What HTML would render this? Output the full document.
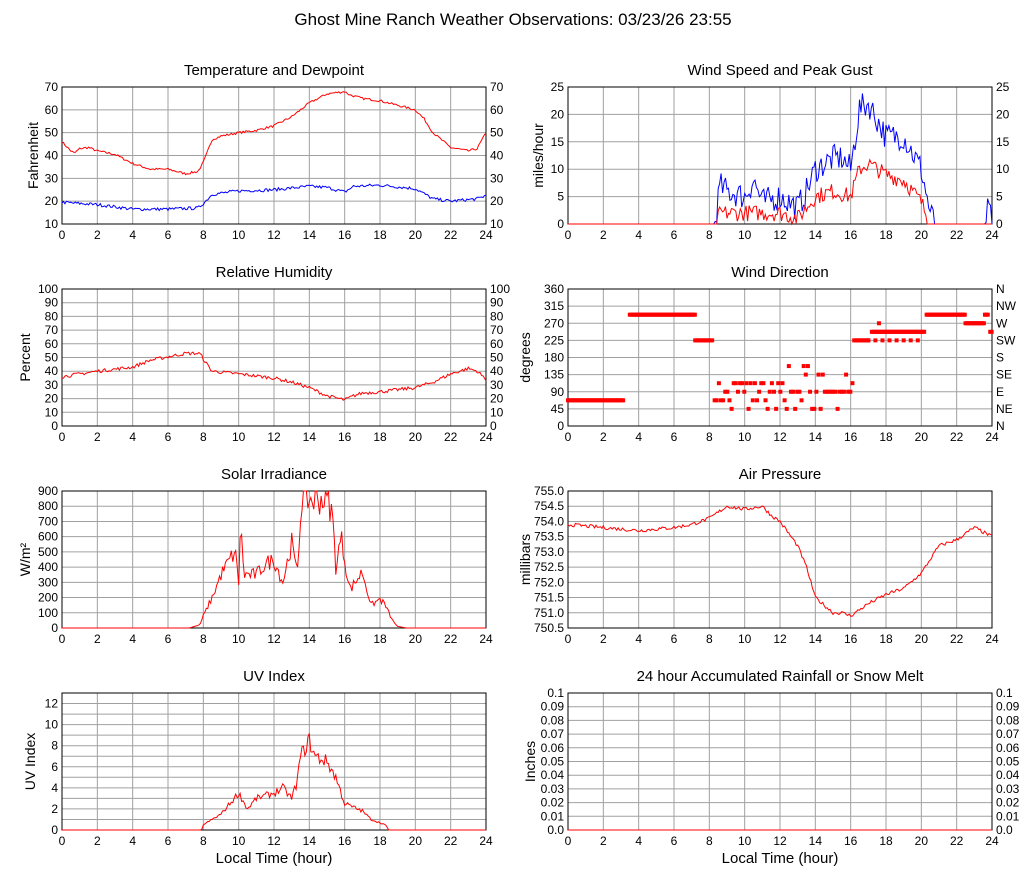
<!DOCTYPE html>
<html><head><meta charset="utf-8"><style>
body{margin:0;background:#fff;}
svg{font-family:"Liberation Sans",Arial,sans-serif;display:block}
</style></head><body>
<svg id="s" width="1027" height="878" xmlns="http://www.w3.org/2000/svg">
<rect width="1027" height="878" fill="#fff"/>
<text x="513" y="25" font-size="17" text-anchor="middle">Ghost Mine Ranch Weather Observations: 03/23/26 23:55</text>
</svg>
<script>
const S=document.getElementById('s');const NS='http://www.w3.org/2000/svg';
function el(t,a,txt){const e=document.createElementNS(NS,t);for(const k in a)e.setAttribute(k,a[k]);if(txt!==undefined)e.textContent=txt;S.appendChild(e);return e;}
let seed=7;function rnd(){seed=(seed*16807)%2147483647;return seed/2147483647;}
function interp(k,t){if(t<=k[0][0])return k[0][1];for(let i=1;i<k.length;i++){if(t<=k[i][0]){const a=k[i-1],b=k[i];return a[1]+(b[1]-a[1])*(t-a[0])/(b[0]-a[0]);}}return k[k.length-1][1];}
function chart(o){
 const x0=o.x,y0=o.y,w=424,h=137;
 el('text',{x:x0+w/2,y:y0-12,'font-size':15,'text-anchor':'middle'},o.title);
 const n=Math.round((o.ymax-o.ymin)/o.step);
 for(let i=0;i<=12;i++){const x=x0+w*i/12;el('line',{x1:x,y1:y0,x2:x,y2:y0+h,stroke:'#a0a0a0'});
  el('text',{x:x,y:y0+h+15,'font-size':12,'text-anchor':'middle'},i*2);}
 for(let j=0;j<=n;j++){const y=y0+h-h*j/n;el('line',{x1:x0,y1:y,x2:x0+w,y2:y,stroke:'#a0a0a0'});
  const v=o.ymin+j*o.step;const lab=o.fmt?o.fmt(v):String(Math.round(v*1000)/1000);
  el('text',{x:x0-4,y:y+4,'font-size':12,'text-anchor':'end'},lab);
  if(o.right){el('text',{x:x0+w+4,y:y+4,'font-size':12},o.rlab?o.rlab[j]:lab);}}
 el('rect',{x:x0,y:y0,width:w,height:h,fill:'none',stroke:'#000'});
 const yl=el('text',{x:0,y:0,'font-size':14,'text-anchor':'middle',transform:`translate(${o.ylx},${y0+h/2}) rotate(-90)`},o.ylabel);
 if(o.xlabel)el('text',{x:x0+w/2,y:y0+h+33,'font-size':15,'text-anchor':'middle'},'Local Time (hour)');
 const X=t=>x0+w*t/24,Y=v=>y0+h-h*(v-o.ymin)/(o.ymax-o.ymin);
 (o.series||[]).forEach(s=>{let p=[];for(let i=0;i<=288;i++){const t=i/12;let v=interp(s.k,t);if(v>0||!s.pos)v+=(rnd()-.5)*s.noise*(s.rel?v:1);if(s.pos)v=Math.max(0,v);v=Math.min(o.ymax,v);p.push(X(t).toFixed(1)+','+Y(v).toFixed(1));}
  el('polyline',{points:p.join(' '),fill:'none',stroke:s.c,'stroke-width':1});});
 if(o.dots)o.dots.forEach(d=>el('rect',{x:X(d[0])-2,y:Y(d[1])-2,width:4,height:4,fill:'#f00'}));
}
chart({x:62,y:87,title:'Temperature and Dewpoint',ymin:10,ymax:70,step:10,right:1,ylabel:'Fahrenheit',ylx:38,
 series:[{c:'#f00',noise:1,k:[[0,46],[0.5,42],[0.7,41],[1,43],[1.5,43.5],[2,42],[3,40.5],[4,36.5],[5,34],[6,34],[7,32],[7.7,33],[8,37],[8.5,47],[9,48.5],[10,50],[11,51],[12,53],[13,57],[14,63],[15,67],[16,68],[16.3,66.5],[17,65],[18,64],[19,62],[20,60],[20.5,56],[21,50],[22,43.5],[23,42],[23.5,43],[24,50]]},
 {c:'#00f',noise:1.4,k:[[0,19.5],[2,18.5],[4,16.5],[6,16.5],[7.7,17],[8,19],[8.5,23],[10,24.5],[12,25],[14,26.5],[15,26],[16,24],[16.5,26.5],[18,27],[20,25.5],[21,21],[22,20],[23.5,21],[24,22.5]]}]});
chart({x:568,y:87,title:'Wind Speed and Peak Gust',ymin:0,ymax:25,step:5,right:1,ylabel:'miles/hour',ylx:543,
 series:[{c:'#00f',noise:5,pos:1,k:[[0,0],[8.3,0],[8.6,7],[9,6],[10,5],[10.5,8],[11,4],[12,5],[13,3],[13.5,6],[14,10],[15,12],[15.5,12],[16,10],[16.5,21],[17,22],[17.5,19],[18,16],[19,16],[20,10],[20.5,2],[20.8,0],[23.6,0],[23.8,3],[24,0]]},
 {c:'#f00',noise:3,pos:1,k:[[0,0],[8.4,0],[8.6,2],[10,2],[11,2],[12,2],[13,1],[14,5],[15,6],[16,5],[16.5,10],[17,11],[18,9],[19,8],[20,4],[20.5,0],[24,0]]}]});
chart({x:62,y:289,title:'Relative Humidity',ymin:0,ymax:100,step:10,right:1,ylabel:'Percent',ylx:30,
 series:[{c:'#f00',noise:2.5,k:[[0,36],[2,40],[4,43],[5,48],[7,53],[7.8,53],[8.2,45],[8.5,40],[10,38],[12,35],[13,32],[14,28],[15,22],[16,19],[16.5,22],[17,24],[18,25],[20,28],[21,32],[22,38],[23,42],[23.5,40],[24,34]]}]});
let dots=[];const seg=(a,b,v)=>{for(let t=a;t<=b;t+=0.08)dots.push([t,v]);};
seg(0,3.2,67.5);seg(3.5,7.2,292.5);seg(7.2,8.2,225);
for(let t=8.3;t<16.1;t+=0.12){const opts=[90,90,112.5,67.5,90,135,45,157.5];let v=opts[Math.floor(rnd()*opts.length)];if(t<12&&v>120)v=112.5;dots.push([t,v]);}
seg(16.2,17,225);seg(17.2,20.2,247.5);for(let t=17;t<20;t+=0.4)dots.push([t,225]);dots.push([17.6,270]);
seg(20.3,22.5,292.5);seg(22.5,23.6,270);seg(23.6,23.8,292.5);seg(23.9,24,247.5);
chart({x:568,y:289,title:'Wind Direction',ymin:0,ymax:360,step:45,right:1,rlab:['N','NE','E','SE','S','SW','W','NW','N'],ylabel:'degrees',ylx:530,dots:dots});
chart({x:62,y:491,title:'Solar Irradiance',ymin:0,ymax:900,step:100,ylabel:'W/m²',ylx:30,
 series:[{c:'#f00',noise:0.25,rel:1,pos:1,k:[[0,0],[7.2,0],[7.8,20],[8,80],[8.5,200],[9,350],[9.5,450],[9.8,500],[10,300],[10.1,680],[10.3,350],[11,350],[11.5,420],[12,450],[12.5,300],[13,560],[13.3,350],[13.6,900],[14,840],[15,850],[15.3,750],[15.5,400],[15.8,600],[16,450],[16.3,250],[17,370],[17.5,150],[18,190],[18.3,150],[18.7,50],[19,10],[19.5,0],[24,0]]}]});
chart({x:568,y:491,title:'Air Pressure',ymin:750.5,ymax:755,step:0.5,fmt:v=>v.toFixed(1),ylabel:'millibars',ylx:530,
 series:[{c:'#f00',noise:0.12,k:[[0,753.9],[2,753.8],[4,753.7],[6,753.8],[7,753.9],[8,754.1],[9,754.5],[10,754.4],[11,754.5],[11.5,754.2],[12,754],[13,753.2],[13.5,752.5],[14,751.5],[15,751],[15.5,751],[16,750.9],[17,751.3],[18,751.6],[19,751.8],[20,752.3],[21,753.2],[22,753.4],[23,753.8],[24,753.5]]}]});
chart({x:62,y:693,title:'UV Index',ymin:0,ymax:13,step:1,fmt:v=>v%2?'':String(v),ylabel:'UV Index',ylx:35,xlabel:1,
 series:[{c:'#f00',noise:0.2,rel:1,pos:1,k:[[0,0],[7.9,0],[8,0.5],[9,1.5],[10,3.5],[10.5,2],[11,3],[12,3.5],[12.5,4],[13,3],[13.3,4.5],[13.5,7],[14,8.5],[14.3,7],[15,6.5],[15.5,5],[16,2.5],[17,1.8],[17.5,1],[18.3,0.5],[18.5,0],[24,0]]}]});
chart({x:568,y:693,title:'24 hour Accumulated Rainfall or Snow Melt',ymin:0,ymax:0.1,step:0.01,right:1,fmt:v=>(Math.round(v*100)/100).toString().replace(/^0$/,'0.0'),ylabel:'Inches',ylx:535,xlabel:1,
 series:[{c:'#f00',noise:0,k:[[0,0],[24,0]]}]});
</script>
</body></html>
